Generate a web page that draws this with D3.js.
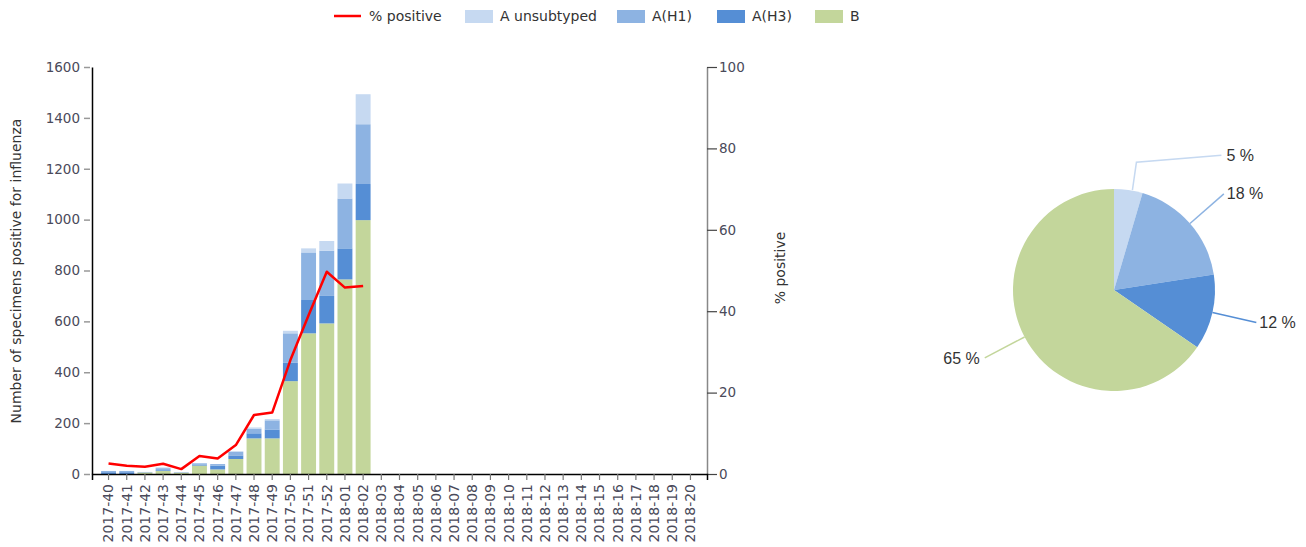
<!DOCTYPE html>
<html lang="en">
<head>
  <meta charset="UTF-8">
  <title>Influenza positive specimens</title>
  <style>
    body { margin: 0; background: #fff; }
    svg text { font-family: "DejaVu Sans", Verdana, sans-serif; }
  </style>
</head>
<body>
  <script src="https://d3js.org/d3.v7.min.js"></script>
  <script>
    // week labels on the x axis
    let weeks = ["2017-40", "2017-41", "2017-42", "2017-43", "2017-44", "2017-45", "2017-46",
      "2017-47", "2017-48", "2017-49", "2017-50", "2017-51", "2017-52", "2018-01", "2018-02",
      "2018-03", "2018-04", "2018-05", "2018-06", "2018-07", "2018-08", "2018-09", "2018-10",
      "2018-11", "2018-12", "2018-13", "2018-14", "2018-15", "2018-16", "2018-17", "2018-18",
      "2018-19", "2018-20"];

    // specimens per week (only the first 15 weeks have data)
    let fluB = [0, 0, 6, 12, 5, 33, 18, 59, 140, 140, 365, 553, 592, 765, 998];
    let fluH3 = [7, 7, 0, 3, 0, 3, 15, 14, 20, 35, 72, 131, 108, 122, 142];
    let fluH1 = [5, 5, 2, 8, 2, 6, 6, 14, 18, 36, 116, 187, 178, 196, 235];
    let fluUnsub = [0, 0, 0, 3, 0, 0, 0, 3, 5, 5, 10, 16, 38, 59, 118];
    let pctPositive = [2.6, 2.0, 1.8, 2.5, 1.2, 4.4, 3.8, 7.1, 14.5, 15.1, 28, 39, 49.7, 45.8, 46.2];

    let leftTicks = [0, 200, 400, 600, 800, 1000, 1200, 1400, 1600];
    let rightTicks = [0, 20, 40, 60, 80, 100];

    let seriesNames = ["A unsubtyped", "A(H1)", "A(H3)", "B"];
    let seriesColors = ["#c6d9f1", "#8db3e2", "#558ed5", "#c3d69b"];

    let svgWidth = 1306;
    let svgHeight = 547;

    let svg = d3.select("body")
      .append("svg")
      .attr("width", svgWidth)
      .attr("height", svgHeight);

    let plotLeft = 92, plotRight = 707, plotTop = 67, plotBottom = 474;

    let x = d3.scaleBand()
      .domain(weeks)
      .range([plotLeft, plotRight])
      .paddingInner(0.18)
      .paddingOuter(0.5);

    let y = d3.scaleLinear().domain([0, 1600]).range([plotBottom, plotTop]);
    let yPct = d3.scaleLinear().domain([0, 100]).range([plotBottom, plotTop]);

    // build rows for the stack
    let rows = fluB.map(function(b, i) {
      return { week: weeks[i], "B": b, "A(H3)": fluH3[i], "A(H1)": fluH1[i], "A unsubtyped": fluUnsub[i] };
    });

    let colorOf = d3.scaleOrdinal().domain(seriesNames).range(seriesColors);

    let stack = d3.stack().keys(["B", "A(H3)", "A(H1)", "A unsubtyped"]);
    let stacked = stack(rows);

    svg.append("g")
      .selectAll("g")
      .data(stacked)
      .join("g")
      .attr("fill", function(d) { return colorOf(d.key); })
      .selectAll("rect")
      .data(function(d) { return d; })
      .join("rect")
      .attr("x", function(d) { return x(d.data.week); })
      .attr("y", function(d) { return y(d[1]); })
      .attr("width", x.bandwidth())
      .attr("height", function(d) { return y(d[0]) - y(d[1]); });

    // left axis
    let leftAxis = svg.append("g")
      .attr("transform", "translate(" + plotLeft + ",0)")
      .call(d3.axisLeft(y).tickValues(leftTicks).tickFormat(d3.format("d"))
        .tickSize(8).tickPadding(4).tickSizeOuter(0));
    leftAxis.select(".domain").attr("stroke", "#000").attr("stroke-width", 1.5);
    leftAxis.selectAll(".tick line").attr("stroke", "#999").attr("stroke-width", 1.5).attr("x2", -8).attr("x1", -2);
    leftAxis.selectAll(".tick text").attr("fill", "#4a4a5a").style("font-size", "13.5px");

    // right axis
    let rightAxis = svg.append("g")
      .attr("transform", "translate(" + plotRight + ",0)")
      .call(d3.axisRight(yPct).tickValues(rightTicks).tickSize(10).tickPadding(2).tickSizeOuter(0));
    rightAxis.select(".domain").attr("stroke", "#888").attr("stroke-width", 1.5);
    rightAxis.selectAll(".tick line").attr("stroke", "#444").attr("stroke-width", 1.2);
    rightAxis.selectAll(".tick text").attr("fill", "#4a4a5a").style("font-size", "13.5px");

    // bottom axis
    let bottomAxis = svg.append("g")
      .attr("transform", "translate(0," + plotBottom + ")")
      .call(d3.axisBottom(x).tickSize(6).tickSizeOuter(6));
    bottomAxis.select(".domain").attr("stroke", "#000").attr("stroke-width", 1.5);
    bottomAxis.selectAll(".tick line").attr("stroke", "#777").attr("stroke-width", 1.2);
    bottomAxis.selectAll(".tick text")
      .attr("fill", "#4a4a5a")
      .style("font-size", "14px")
      .attr("text-anchor", "end")
      .attr("transform", "rotate(-90)")
      .attr("x", -10)
      .attr("y", 0)
      .attr("dy", "0.35em");

    // % positive line
    let line = d3.line()
      .x(function(d, i) { return x(weeks[i]) + x.bandwidth() / 2; })
      .y(function(d) { return yPct(d); });

    svg.append("path")
      .datum(pctPositive)
      .attr("fill", "none")
      .attr("stroke", "#ff0000")
      .attr("stroke-width", 2.5)
      .attr("stroke-linejoin", "round")
      .attr("d", line);

    // axis titles
    svg.append("text")
      .attr("transform", "translate(21,271) rotate(-90)")
      .attr("text-anchor", "middle")
      .attr("fill", "#333")
      .style("font-size", "14px")
      .text("Number of specimens positive for influenza");

    svg.append("text")
      .attr("transform", "translate(785,268) rotate(-90)")
      .attr("text-anchor", "middle")
      .attr("fill", "#333")
      .style("font-size", "14px")
      .text("% positive");

    // legend
    let legend = svg.append("g");
    legend.append("line")
      .attr("x1", 334).attr("x2", 361)
      .attr("y1", 16).attr("y2", 16)
      .attr("stroke", "#ff0000")
      .attr("stroke-width", 2.5);
    legend.append("text")
      .attr("x", 369).attr("y", 16)
      .attr("dy", "0.35em")
      .attr("fill", "#333")
      .style("font-size", "14px")
      .text("% positive");

    let legendX = [465, 617, 717, 815];
    seriesNames.forEach(function(name, i) {
      legend.append("rect")
        .attr("x", legendX[i]).attr("y", 10)
        .attr("width", 28).attr("height", 13)
        .attr("fill", seriesColors[i]);
      legend.append("text")
        .attr("x", legendX[i] + 35).attr("y", 16)
        .attr("dy", "0.35em")
        .attr("fill", "#333")
        .style("font-size", "14px")
        .text(name);
    });

    // pie of totals by subtype
    let totals = [d3.sum(fluUnsub), d3.sum(fluH1), d3.sum(fluH3), d3.sum(fluB)];
    let grand = d3.sum(totals);

    let pieCx = 1114, pieCy = 290, pieR = 101;
    let pie = d3.pie().sort(null).value(function(d) { return d; });
    let arcs = pie(totals);
    let arc = d3.arc().innerRadius(0).outerRadius(pieR);

    let pieG = svg.append("g").attr("transform", "translate(" + pieCx + "," + pieCy + ")");
    pieG.selectAll("path")
      .data(arcs)
      .join("path")
      .attr("d", arc)
      .attr("fill", function(d, i) { return seriesColors[i]; });

    arcs.forEach(function(a, i) {
      let mid = (a.startAngle + a.endAngle) / 2;
      let sx = Math.sin(mid) * pieR, sy = -Math.cos(mid) * pieR;
      let pts, tx, ty, anchor;
      if (a.endAngle - a.startAngle < 0.4) {
        // small slice: short leader then run to the right
        let ex = Math.sin(mid) * (pieR + 28) + 4, ey = -Math.cos(mid) * (pieR + 28);
        pts = [[sx + 4, sy], [ex, ey], [ex + 85, ey - 7]];
        tx = ex + 87; ty = ey - 7;
      } else {
        let rr = pieR + 45;
        let ex = Math.sin(mid) * rr, ey = -Math.cos(mid) * rr;
        pts = [[sx, sy], [ex, ey]];
        tx = ex; ty = ey;
      }
      anchor = Math.sin(mid) >= 0 ? "start" : "end";
      pieG.append("polyline")
        .attr("points", pts.map(function(p) { return p.join(","); }).join(" "))
        .attr("fill", "none")
        .attr("stroke", seriesColors[i])
        .attr("stroke-width", 1.5);
      pieG.append("text")
        .attr("x", tx + (anchor === "start" ? 3 : -5))
        .attr("y", ty)
        .attr("dy", "0.35em")
        .attr("text-anchor", anchor)
        .attr("fill", "#333")
        .style("font-family", "'Liberation Sans', Arial, sans-serif")
        .style("font-size", "16px")
        .text(Math.round(a.data / grand * 100) + " %");
    });
  </script>
</body>
</html>
